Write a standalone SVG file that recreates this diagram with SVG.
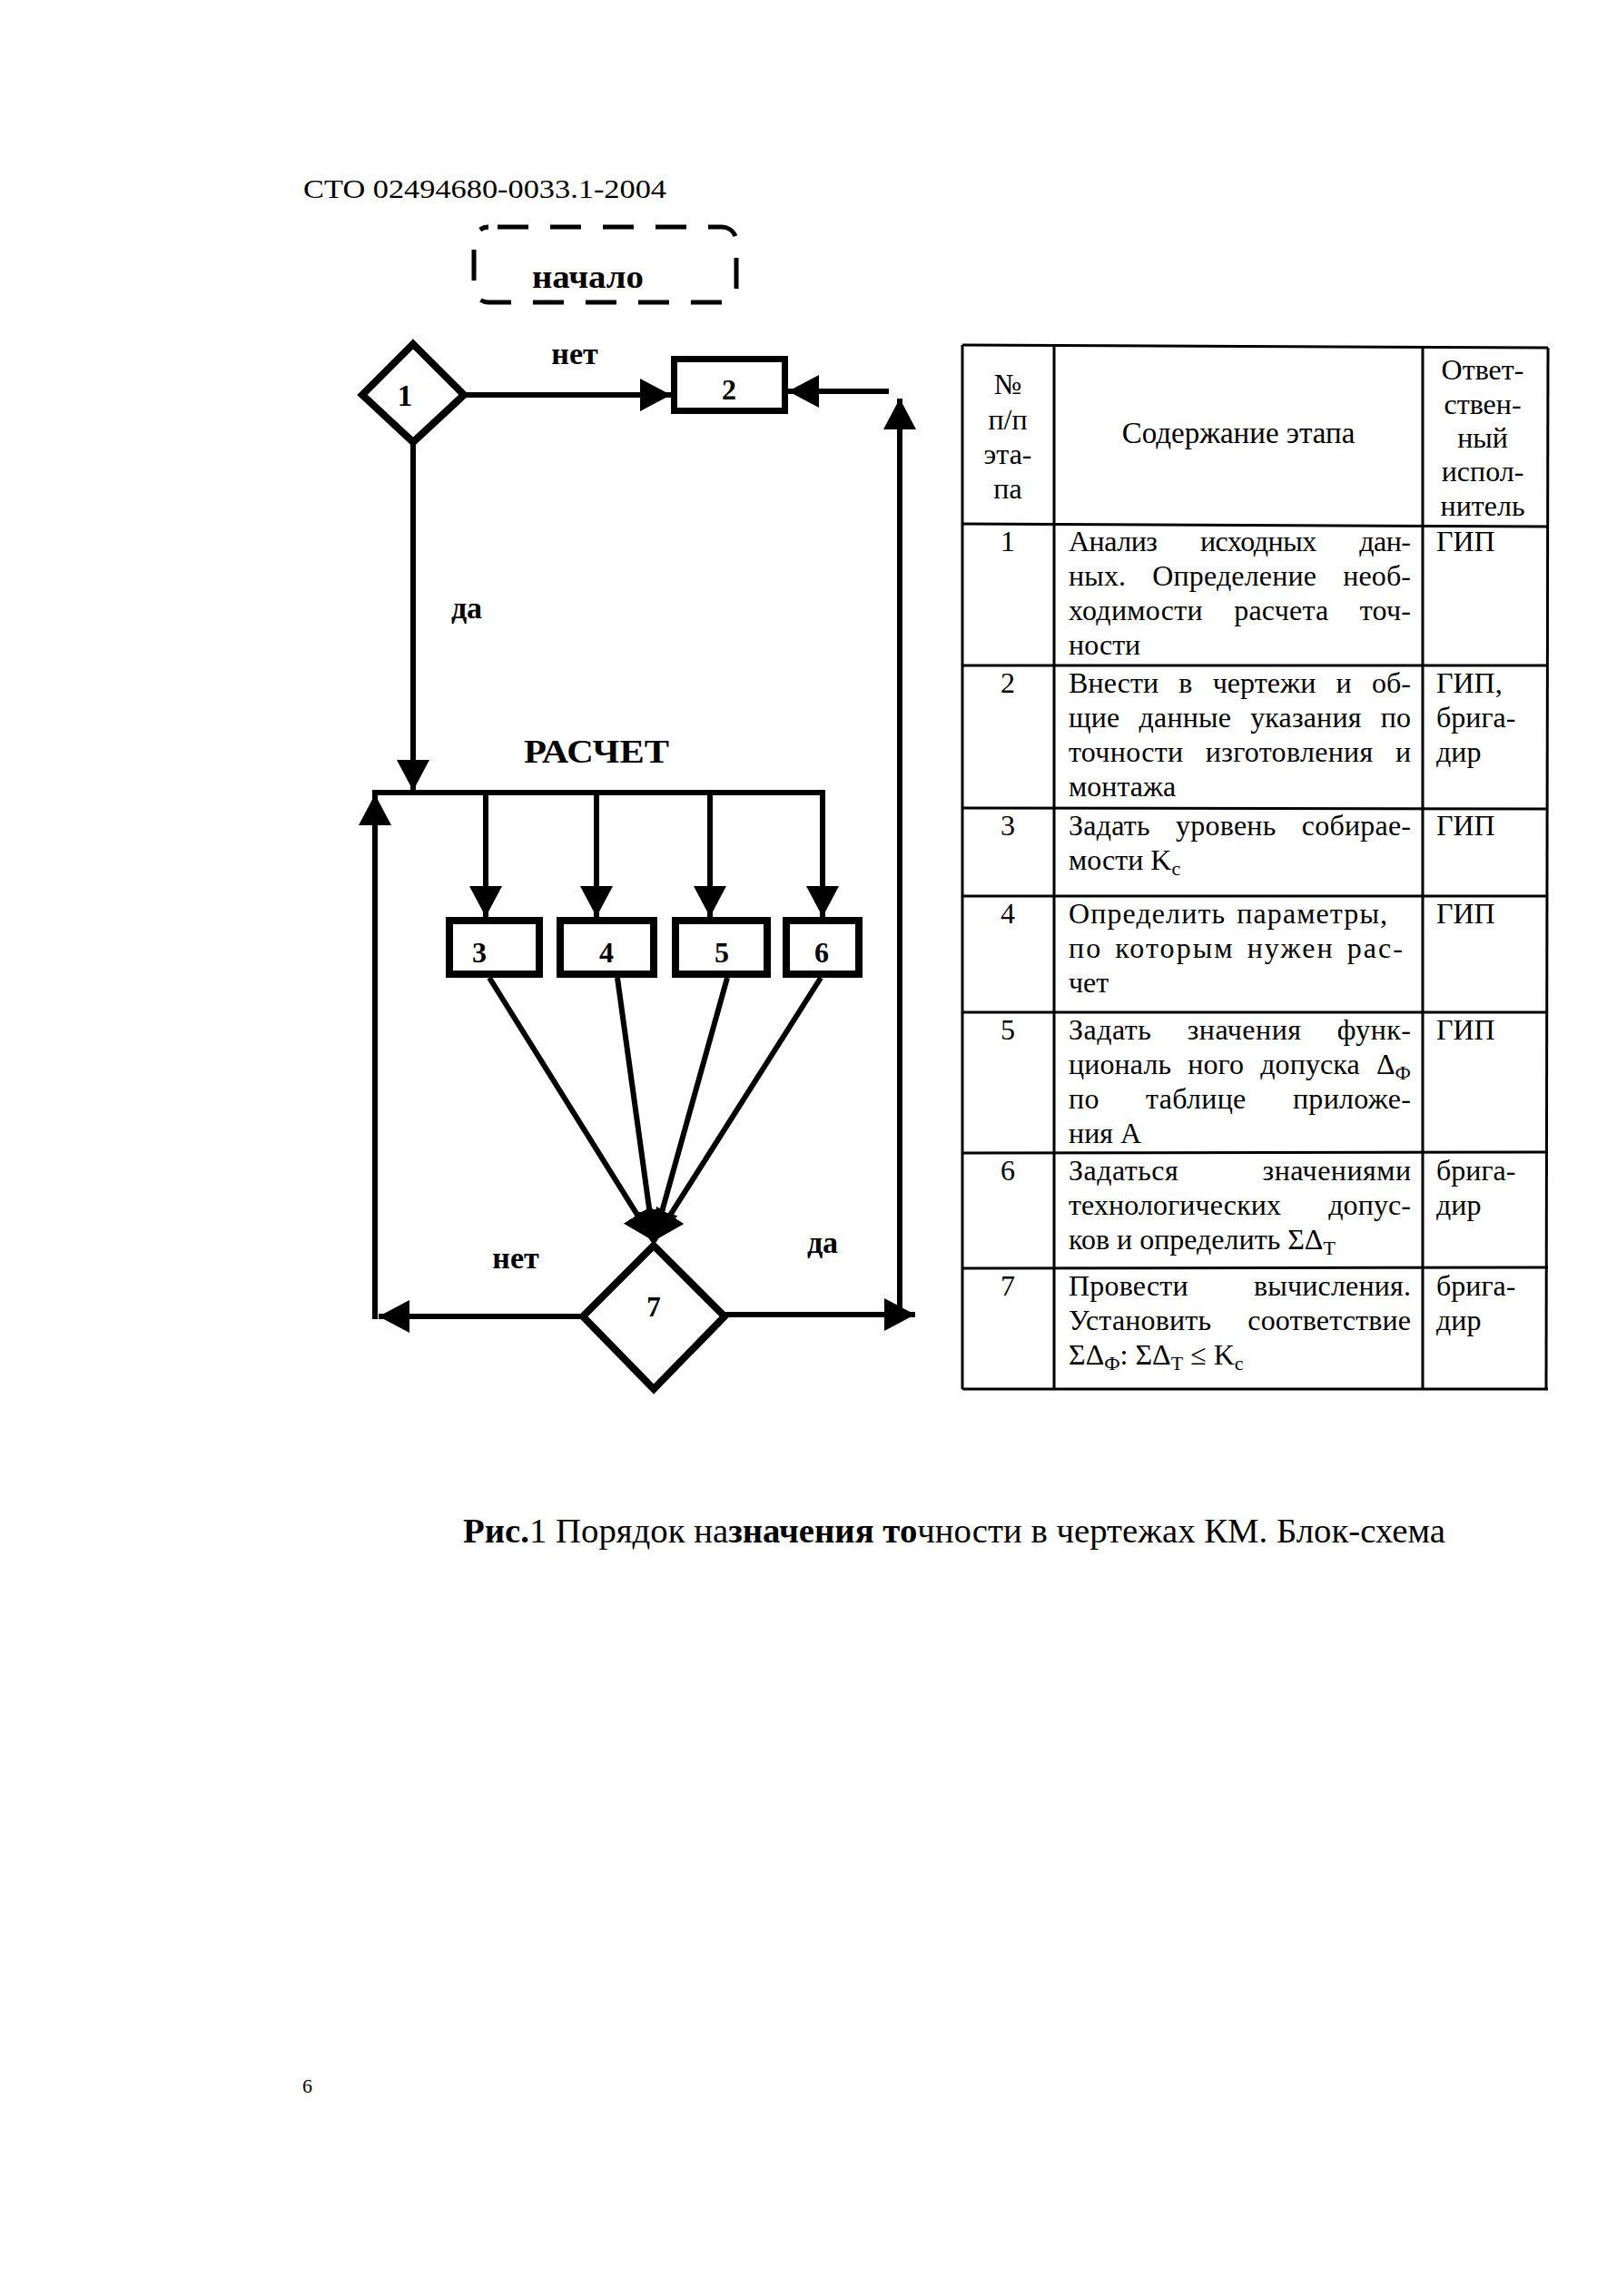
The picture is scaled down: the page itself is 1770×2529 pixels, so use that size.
<svg xmlns="http://www.w3.org/2000/svg" width="1770" height="2529" viewBox="0 0 1770 2529">
<style>
  .bg { fill: #ffffff; }
  .t { font-family: "Liberation Serif", "Times New Roman", serif; fill: #000; }
  .b { font-weight: bold; }
  .node { fill: #fff; stroke: #000; stroke-linejoin: miter; }
  .conn { fill: none; stroke: #000; stroke-width: 6; }
  .grid { stroke: #000; stroke-width: 3; fill: none; }
  .cell { font-size: 32px; }
  .sub { font-size: 22px; }
</style>
<defs>
  <marker id="ah" markerUnits="userSpaceOnUse" markerWidth="34" markerHeight="36" refX="34" refY="18" orient="auto">
    <path d="M0,0 L34,18 L0,36 Z" fill="#000"/>
  </marker>
</defs>
<rect class="bg" x="0" y="0" width="1770" height="2529"/>

<text class="t" x="334" y="218" font-size="30" textLength="400" lengthAdjust="spacingAndGlyphs">СТО 02494680-0033.1-2004</text>

<g id="start">
  <rect x="522" y="250" width="289" height="83" rx="16" fill="none" stroke="#000" stroke-width="5" stroke-dasharray="34 24" stroke-dashoffset="-10"/>
  <text class="t b" x="586" y="317" font-size="36" textLength="123" lengthAdjust="spacingAndGlyphs">начало</text>
</g>

<g id="connectors">
  <line class="conn" x1="511" y1="435" x2="739" y2="435" marker-end="url(#ah)"/>
  <line class="conn" x1="979" y1="431" x2="868" y2="431" marker-end="url(#ah)"/>
  <line class="conn" x1="991" y1="1451" x2="991" y2="439" marker-end="url(#ah)"/>
  <line class="conn" x1="455" y1="487" x2="455" y2="871" marker-end="url(#ah)"/>
  <line class="conn" x1="410" y1="873" x2="909" y2="873"/>
  <line class="conn" x1="535" y1="873" x2="535" y2="1010" marker-end="url(#ah)"/>
  <line class="conn" x1="657" y1="873" x2="657" y2="1010" marker-end="url(#ah)"/>
  <line class="conn" x1="782" y1="873" x2="782" y2="1010" marker-end="url(#ah)"/>
  <line class="conn" x1="906" y1="870" x2="906" y2="1010" marker-end="url(#ah)"/>
  <line class="conn" x1="539" y1="1077" x2="720" y2="1367" marker-end="url(#ah)"/>
  <line class="conn" x1="680" y1="1077" x2="720" y2="1367" marker-end="url(#ah)"/>
  <line class="conn" x1="801" y1="1077" x2="720" y2="1367" marker-end="url(#ah)"/>
  <line class="conn" x1="904" y1="1077" x2="720" y2="1367" marker-end="url(#ah)"/>
  <line class="conn" x1="642" y1="1450" x2="417" y2="1450" marker-end="url(#ah)"/>
  <line class="conn" x1="413" y1="1453" x2="413" y2="875" marker-end="url(#ah)"/>
  <line class="conn" x1="798" y1="1448" x2="1008" y2="1448" marker-end="url(#ah)"/>
</g>

<g id="d1">
  <polygon class="node" stroke-width="8" points="455,379 511,435 455,487 399,435"/>
  <text class="t b" x="446" y="447" font-size="33" text-anchor="middle">1</text>
</g>
<g id="b2">
  <rect class="node" stroke-width="7" x="742.5" y="395.5" width="122" height="57"/>
  <text class="t b" x="803" y="440" font-size="32" text-anchor="middle">2</text>
</g>
<g id="b3">
  <rect class="node" stroke-width="8" x="495" y="1014" width="99" height="59"/>
  <text class="t b" x="528" y="1060" font-size="32" text-anchor="middle">3</text>
</g>
<g id="b4">
  <rect class="node" stroke-width="8" x="617" y="1014" width="103" height="59"/>
  <text class="t b" x="668" y="1060" font-size="32" text-anchor="middle">4</text>
</g>
<g id="b5">
  <rect class="node" stroke-width="8" x="744" y="1014" width="101" height="59"/>
  <text class="t b" x="795" y="1060" font-size="32" text-anchor="middle">5</text>
</g>
<g id="b6">
  <rect class="node" stroke-width="8" x="866" y="1014" width="80" height="59"/>
  <text class="t b" x="905" y="1060" font-size="32" text-anchor="middle">6</text>
</g>
<g id="d7">
  <polygon class="node" stroke-width="8" points="720,1372 798,1450 720,1530 642,1450"/>
  <text class="t b" x="720" y="1450" font-size="31" text-anchor="middle">7</text>
</g>

<g id="labels">
  <text class="t b" x="633" y="401" font-size="34" text-anchor="middle">нет</text>
  <text class="t b" x="514" y="681" font-size="34" text-anchor="middle">да</text>
  <text class="t b" x="577" y="840" font-size="36" textLength="160" lengthAdjust="spacingAndGlyphs">РАСЧЕТ</text>
  <text class="t b" x="568" y="1397" font-size="34" text-anchor="middle">нет</text>
  <text class="t b" x="906" y="1380" font-size="34" text-anchor="middle">да</text>
</g>

<g id="table">
  <line class="grid" x1="1060" y1="380" x2="1705" y2="383"/>
  <line class="grid" x1="1060" y1="1530" x2="1705" y2="1530"/>
  <line class="grid" x1="1060" y1="380" x2="1060" y2="1530"/>
  <line class="grid" x1="1161" y1="380" x2="1161" y2="1530"/>
  <line class="grid" x1="1567" y1="381" x2="1567" y2="1530"/>
  <line class="grid" x1="1705" y1="383" x2="1703" y2="1530"/>
  <line class="grid" x1="1060" y1="577" x2="1705" y2="580"/>
  <line class="grid" x1="1060" y1="733" x2="1705" y2="733"/>
  <line class="grid" x1="1060" y1="890" x2="1705" y2="891"/>
  <line class="grid" x1="1060" y1="987" x2="1705" y2="987"/>
  <line class="grid" x1="1060" y1="1115" x2="1705" y2="1115"/>
  <line class="grid" x1="1060" y1="1270" x2="1705" y2="1269"/>
  <line class="grid" x1="1060" y1="1397" x2="1705" y2="1396"/>

  <g class="t cell" text-anchor="middle">
    <text x="1110" y="434">№</text>
    <text x="1110" y="473">п/п</text>
    <text x="1110" y="511">эта-</text>
    <text x="1110" y="549">па</text>
    <text x="1364" y="488" font-size="33">Содержание этапа</text>
    <text x="1633" y="418">Ответ-</text>
    <text x="1633" y="456">ствен-</text>
    <text x="1633" y="493">ный</text>
    <text x="1633" y="530">испол-</text>
    <text x="1633" y="568">нитель</text>
    <text x="1110" y="607">1</text>
    <text x="1110" y="763">2</text>
    <text x="1110" y="920">3</text>
    <text x="1110" y="1017">4</text>
    <text x="1110" y="1145">5</text>
    <text x="1110" y="1300">6</text>
    <text x="1110" y="1427">7</text>
  </g>

  <g class="t cell">
    <text x="1177" y="607" style="word-spacing:40px" textLength="377" lengthAdjust="spacing">Анализ исходных дан-</text>
    <text x="1177" y="645" style="word-spacing:21px" textLength="377" lengthAdjust="spacing">ных. Определение необ-</text>
    <text x="1177" y="683" style="word-spacing:26px" textLength="377" lengthAdjust="spacing">ходимости расчета точ-</text>
    <text x="1177" y="721">ности</text>

    <text x="1177" y="763" style="word-spacing:14px" textLength="377" lengthAdjust="spacing">Внести в чертежи и об-</text>
    <text x="1177" y="801" style="word-spacing:13px" textLength="377" lengthAdjust="spacing">щие данные указания по</text>
    <text x="1177" y="839" style="word-spacing:16px" textLength="377" lengthAdjust="spacing">точности изготовления и</text>
    <text x="1177" y="877">монтажа</text>

    <text x="1177" y="920" style="word-spacing:20px" textLength="377" lengthAdjust="spacing">Задать уровень собирае-</text>
    <text x="1177" y="958">мости K<tspan class="sub" dy="6">с</tspan></text>

    <text x="1177" y="1017" style="word-spacing:3px" textLength="351" lengthAdjust="spacing">Определить параметры,</text>
    <text x="1177" y="1055" style="word-spacing:4px" textLength="368" lengthAdjust="spacing">по которым нужен рас-</text>
    <text x="1177" y="1093">чет</text>

    <text x="1177" y="1145" style="word-spacing:31px" textLength="377" lengthAdjust="spacing">Задать значения функ-</text>
    <text x="1177" y="1183" style="word-spacing:10px" textLength="377" lengthAdjust="spacing">циональ ного допуска Δ<tspan class="sub" dy="6">Ф</tspan></text>
    <text x="1177" y="1221" style="word-spacing:43px" textLength="377" lengthAdjust="spacing">по таблице приложе-</text>
    <text x="1177" y="1259">ния А</text>

    <text x="1177" y="1300" style="word-spacing:84px" textLength="377" lengthAdjust="spacing">Задаться значениями</text>
    <text x="1177" y="1338" style="word-spacing:44px" textLength="377" lengthAdjust="spacing">технологических допус-</text>
    <text x="1177" y="1376">ков и определить ΣΔ<tspan class="sub" dy="6">Т</tspan></text>

    <text x="1177" y="1427" style="word-spacing:64px" textLength="377" lengthAdjust="spacing">Провести вычисления.</text>
    <text x="1177" y="1465" style="word-spacing:32px" textLength="377" lengthAdjust="spacing">Установить соответствие</text>
    <text x="1177" y="1503">ΣΔ<tspan class="sub" dy="6">Ф</tspan><tspan dy="-6">: ΣΔ</tspan><tspan class="sub" dy="6">Т</tspan><tspan dy="-6"> ≤ K</tspan><tspan class="sub" dy="6">с</tspan></text>

    <text x="1582" y="607">ГИП</text>
    <text x="1582" y="763">ГИП,</text>
    <text x="1582" y="801">брига-</text>
    <text x="1582" y="839">дир</text>
    <text x="1582" y="920">ГИП</text>
    <text x="1582" y="1017">ГИП</text>
    <text x="1582" y="1145">ГИП</text>
    <text x="1582" y="1300">брига-</text>
    <text x="1582" y="1338">дир</text>
    <text x="1582" y="1427">брига-</text>
    <text x="1582" y="1465">дир</text>
  </g>
</g>

<text class="t" x="510" y="1699" font-size="38" textLength="1082" lengthAdjust="spacingAndGlyphs"><tspan class="b">Рис.</tspan>1 Порядок на<tspan class="b">значения то</tspan>чности в чертежах КМ. Блок-схема</text>

<text class="t" x="333" y="2305" font-size="22">6</text>
</svg>
